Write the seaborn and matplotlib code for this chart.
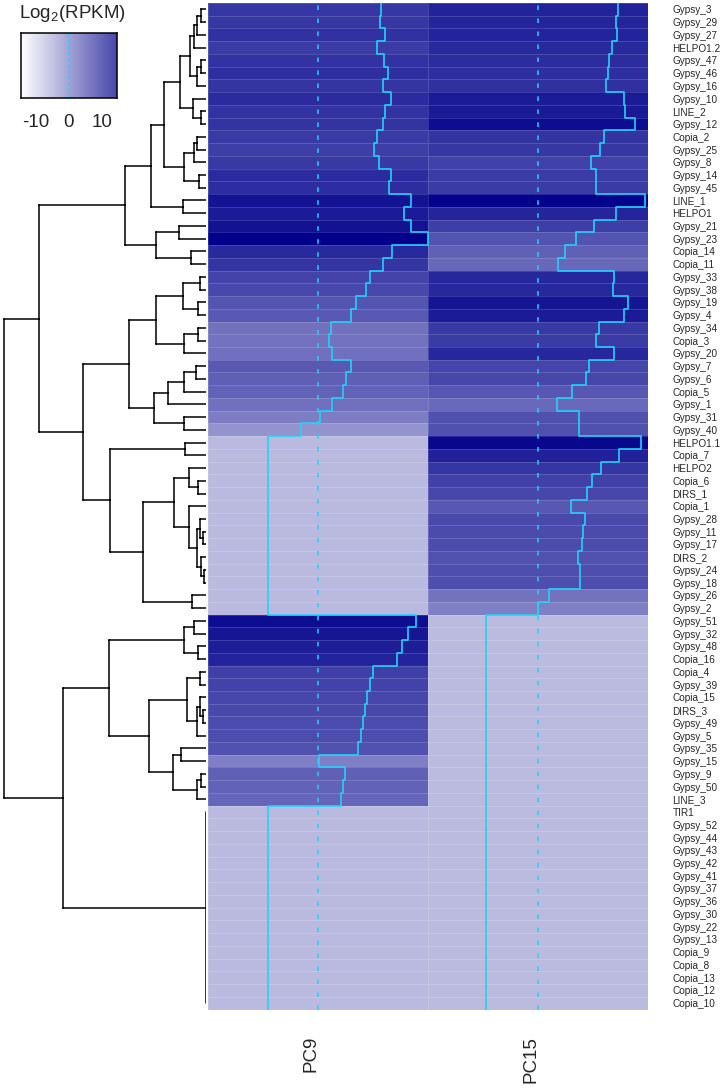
import numpy as np
import pandas as pd
import matplotlib
matplotlib.use('Agg')
import matplotlib.pyplot as plt
import seaborn as sns
from matplotlib.colors import LinearSegmentedColormap, ListedColormap
from matplotlib.transforms import ScaledTranslation

# row labels, top to bottom (dendrogram order)
te_names = [
    'Gypsy_3', 'Gypsy_29', 'Gypsy_27', 'HELPO1.2', 'Gypsy_47', 'Gypsy_46', 'Gypsy_16',
    'Gypsy_10', 'LINE_2', 'Gypsy_12', 'Copia_2', 'Gypsy_25', 'Gypsy_8', 'Gypsy_14',
    'Gypsy_45', 'LINE_1', 'HELPO1', 'Gypsy_21', 'Gypsy_23', 'Copia_14', 'Copia_11',
    'Gypsy_33', 'Gypsy_38', 'Gypsy_19', 'Gypsy_4', 'Gypsy_34', 'Copia_3', 'Gypsy_20',
    'Gypsy_7', 'Gypsy_6', 'Copia_5', 'Gypsy_1', 'Gypsy_31', 'Gypsy_40', 'HELPO1.1',
    'Copia_7', 'HELPO2', 'Copia_6', 'DIRS_1', 'Copia_1', 'Gypsy_28', 'Gypsy_11',
    'Gypsy_17', 'DIRS_2', 'Gypsy_24', 'Gypsy_18', 'Gypsy_26', 'Gypsy_2', 'Gypsy_51',
    'Gypsy_32', 'Gypsy_48', 'Copia_16', 'Copia_4', 'Gypsy_39', 'Copia_15', 'DIRS_3',
    'Gypsy_49', 'Gypsy_5', 'Gypsy_35', 'Gypsy_15', 'Gypsy_9', 'Gypsy_50', 'LINE_3',
    'TIR1', 'Gypsy_52', 'Gypsy_44', 'Gypsy_43', 'Gypsy_42', 'Gypsy_41', 'Gypsy_37',
    'Gypsy_36', 'Gypsy_30', 'Gypsy_22', 'Gypsy_13', 'Copia_9', 'Copia_8', 'Copia_13',
    'Copia_12', 'Copia_10',
]
col_names = ['PC9', 'PC15']

# log2(RPKM) values
pc9 = [
    8.28, 8.14, 8.89, 7.71, 8.71, 9.23, 8.50, 9.59, 8.80, 8.63,
    7.84, 7.36, 8.01, 9.59, 9.33, 12.22, 11.34, 12.31, 14.45, 9.81,
    8.50, 6.79, 6.31, 4.95, 4.30, 1.67, 1.48, 1.80, 4.37, 3.68,
    3.32, 1.80, 0.26, -2.23, -6.6, -6.6, -6.6, -6.6, -6.6, -6.6,
    -6.6, -6.6, -6.6, -6.6, -6.6, -6.6, -6.6, -6.6, 12.97, 11.86,
    11.00, 10.42, 7.26, 6.92, 6.48, 6.17, 5.87, 5.65, 5.25, 0.10,
    3.55, 3.28, 3.00, -6.6, -6.6, -6.6, -6.6, -6.6, -6.6, -6.6,
    -6.6, -6.6, -6.6, -6.6, -6.6, -6.6, -6.6, -6.6, -6.6,
]
pc15 = [
    10.55, 10.34, 10.42, 9.81, 9.37, 9.23, 9.02, 11.34, 11.43, 12.87,
    8.67, 8.24, 7.05, 7.71, 7.71, 14.06, 10.34, 7.40, 5.08, 3.55,
    2.67, 10.02, 9.89, 11.86, 11.30, 8.01, 7.71, 10.02, 6.70, 6.40,
    4.56, 2.54, 5.39, 5.39, 13.53, 10.68, 8.37, 7.19, 6.53, 4.43,
    6.17, 5.95, 5.87, 5.29, 5.61, 5.61, 1.48, 0.04, -6.74, -6.74,
    -6.74, -6.74, -6.74, -6.74, -6.74, -6.74, -6.74, -6.74, -6.74, -6.74,
    -6.74, -6.74, -6.74, -6.74, -6.74, -6.74, -6.74, -6.74, -6.74, -6.74,
    -6.74, -6.74, -6.74, -6.74, -6.74, -6.74, -6.74, -6.74, -6.74,
]

# row dendrogram: [child, child, ..., merge height]; leaves are row numbers (0-based)
sub_1_7 = [[[[0, 1, 5], 2, 9], 3, 12], [[4, 5, 5], 6, 9], 15.7]
sub_8_10 = [7, [8, 9, 5], 13.3]
sub_11_15 = [[[10, 11, 9], 12, 12], [13, 14, 7], 22.3]
clust_b1 = [[[[sub_1_7, sub_8_10, 26], sub_11_15, 41.7], [15, 16, 23.3], 55.3],
            [[17, 18, 26.7], [19, 20, 15], 50], 81]
clust_c3 = [[[[21, 22, 6], [23, 24, 8], 23.3], [[25, 26, 8], 27, 22], 50],
            [[[[28, 29, 10], 30, 22], 31, 38.3], [32, 33, 22.3], 52.3], 76.7]
sub_41_46 = [[40, [41, 42, 3], 6], [43, [44, 45, 2], 5], 9]
clust_c4 = [[34, 35, 20.7],
            [[[36, [37, 38, 8.3], 16.7], [39, sub_41_46, 16.7], 32.3], [46, 47, 14], 62.7],
            95.7]
clust_49_63 = [[[48, 49, 11.7], [50, 51, 8.3], 22.3],
               [[[52, 53, 6], [[54, [55, 56, 3], 6], 57, 9], 19],
                [[58, 59, 25], [[60, 61, 5], 62, 9], 33], 56.7], 96.7]
clust_flat = [63, 64, 65, 66, 67, 68, 69, 70, 71, 72, 73, 74, 75, 76, 77, 78, 0]
row_tree = [[clust_b1, [clust_c3, clust_c4, 123.3], 167],
            [clust_49_63, clust_flat, 143], 202]

vmin, vmax = -14.45, 14.45
cmap = LinearSegmentedColormap.from_list('wb', ['white', '#00008B'])
key_cmap = ListedColormap(cmap(np.linspace(0, 0.72, 256)))
trace_col = '#22d2f7'

sns.set_style('white')
plt.rcParams['font.family'] = ['Liberation Sans', 'DejaVu Sans']

W, H = 728, 1092
fig = plt.figure(figsize=(W / 100, H / 100), dpi=100)


def px_axes(x0, y0, x1, y1):
    return fig.add_axes([x0 / W, 1 - y1 / H, (x1 - x0) / W, (y1 - y0) / H])


ax_hm = px_axes(208, 3, 647.5, 1009.5)
ax_dn = px_axes(0, 3, 206, 1009.5)
ax_key = px_axes(21, 33, 117, 98)

df = pd.DataFrame({'PC9': pc9, 'PC15': pc15}, index=te_names)[col_names]
n = len(df)

sns.heatmap(df, ax=ax_hm, cmap=cmap, vmin=vmin, vmax=vmax, cbar=False,
            linewidths=0.5, linecolor=(1, 1, 1, 0.15),
            xticklabels=True, yticklabels=True)

# trace lines + dashed reference line at 0
yy = np.repeat(np.arange(n + 1), 2)[1:-1]
for j, col in enumerate(df.columns):
    xs = j + (df[col].to_numpy() - vmin) / (vmax - vmin)
    ax_hm.plot(np.repeat(xs, 2), yy, color=trace_col, lw=1.2)
    ax_hm.axvline(j + 0.5, color=trace_col, lw=1.1, ls=(0, (3, 5.5)))

for s in ax_hm.spines.values():
    s.set_visible(False)
ax_hm.set_xlabel('')
ax_hm.set_ylabel('')
ax_hm.yaxis.tick_right()
ax_hm.tick_params(axis='y', length=0, pad=18, labelsize=7.2, labelrotation=0)
ax_hm.tick_params(axis='x', length=0, pad=19, labelsize=13.5, labelrotation=90)
for lbl in ax_hm.get_xticklabels():
    lbl.set_transform(lbl.get_transform() + ScaledTranslation(-0.07, 0, fig.dpi_scale_trans))

# row dendrogram
seg_x, seg_y = [], []


def walk(node):
    if isinstance(node, int):
        return node + 0.5, 0.0
    *kids, h = node
    pos = [walk(k) for k in kids]
    ys = [p[0] for p in pos]
    for y, ch in pos:
        seg_x.extend([h, ch, np.nan])
        seg_y.extend([y, y, np.nan])
    seg_x.extend([h, h, np.nan])
    seg_y.extend([min(ys), max(ys), np.nan])
    return (min(ys) + max(ys)) / 2, h


walk(row_tree)
ax_dn.plot(seg_x, seg_y, color='black', lw=1.1)
ax_dn.set_xlim(206, 0)
ax_dn.set_ylim(n, 0)
ax_dn.axis('off')

# colour key
grad = np.linspace(vmin, vmax, 256)[None, :]
ax_key.imshow(grad, cmap=key_cmap, aspect='auto', extent=[vmin, vmax, 0, 1])
ax_key.axvline(0, color=trace_col, lw=1.1, ls=(0, (2, 2)))
ax_key.set_xlim(vmin, vmax)
ax_key.set_yticks([])
ax_key.set_xticks([-10, -5, 0, 5, 10])
ax_key.set_xticklabels(['-10', '', '0', '', '10'])
ax_key.tick_params(axis='x', length=8.5, width=1.1, pad=3, labelsize=13.5, color='black')
for s in ax_key.spines.values():
    s.set_visible(True)
    s.set_color('black')
    s.set_linewidth(1.1)
fig.text(72 / W, 1 - 3 / H, r'$\mathregular{Log_2(RPKM)}$', ha='center', va='top', fontsize=13.5)

fig.savefig('out.png', dpi=100, facecolor='white')
